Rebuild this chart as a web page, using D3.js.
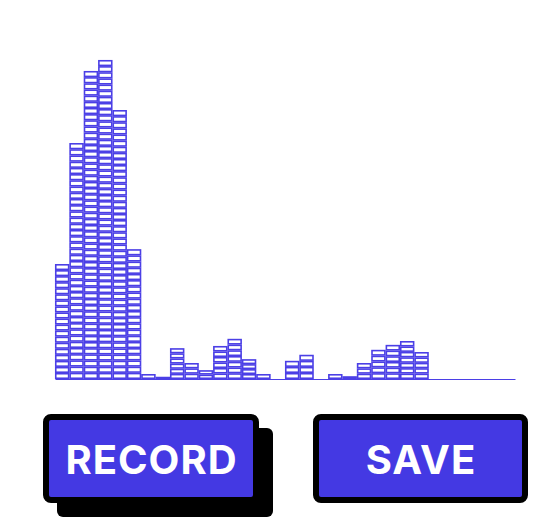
<!DOCTYPE html>
<html>
<head>
<meta charset="utf-8">
<script src="https://cdn.jsdelivr.net/npm/d3@7/dist/d3.min.js"></script>
<style>
  html, body { margin: 0; padding: 0; background: #fff; }
  svg { display: block; }
</style>
</head>
<body>
<svg id="chart" width="542" height="529"></svg>
<script>
// ---- data ----
const binIndex = d3.range(32);
const binTotals = [20.9, 42.9, 56, 58, 48.9, 23.6, 0.9, 0.4, 5.6, 2.9, 1.6, 6, 7.3, 3.6, 0.9, 0,
                   3.3, 4.4, 0, 0.9, 0.5, 2.9, 5.3, 6.2, 6.9, 4.9, 0, 0, 0, 0, 0, 0];
const binCounts = [19, 38, 50, 52, 44, 21, 1, 1, 6, 3, 2, 6, 7, 4, 1, 0,
                   3, 4, 0, 1, 1, 3, 5, 6, 7, 5, 0, 0, 0, 0, 0, 0];
const buttonLabels = ["RECORD", "SAVE"];

const svg = d3.select("#chart");
const PURPLE = "#4b3fe6";
const FILL = "#4439e3";

const x = d3.scaleLinear().domain([0, binIndex.length]).range([55, 515]);
const y = d3.scaleLinear().domain([0, d3.max(binTotals)]).range([379, 60]);

// cells
const cells = [];
binIndex.forEach(i => {
  const n = binCounts[i], T = binTotals[i];
  for (let j = 0; j < n; j++) {
    cells.push({ i, y0: j * T / n, y1: (j + 1) * T / n });
  }
});

svg.append("g")
  .selectAll("rect")
  .data(cells)
  .join("rect")
  .attr("x", d => x(d.i) + 0.75)
  .attr("width", d => x(d.i + 1) - x(d.i) - 1.5)
  .attr("y", d => y(d.y1) + 0.75)
  .attr("height", d => Math.max(0.5, y(d.y0) - y(d.y1) - 1.5))
  .attr("fill", "#fff")
  .attr("stroke", PURPLE)
  .attr("stroke-width", 1.6);

// baseline axis
const axis = svg.append("g")
  .attr("transform", `translate(0,${y(0)})`)
  .call(d3.axisBottom(x).ticks(0).tickSize(0).tickSizeOuter(0).tickFormat(""));
axis.select(".domain").attr("stroke", PURPLE).attr("stroke-width", 1);

// buttons
const buttons = [
  { label: buttonLabels[0], shadow: true, x0: 46, y0: 417, w: 210, h: 83 },
  { label: buttonLabels[1], shadow: false, x0: 316, y0: 417, w: 209, h: 83 }
];
buttons.forEach(b => {
  const g = svg.append("g");
  if (b.shadow) {
    g.append("rect")
      .attr("x", 57).attr("y", 428).attr("width", 216).attr("height", 89)
      .attr("rx", 6).attr("fill", "#000");
  }
  g.append("rect")
    .attr("x", b.x0).attr("y", b.y0).attr("width", b.w).attr("height", b.h)
    .attr("rx", 5).attr("fill", FILL).attr("stroke", "#000").attr("stroke-width", 6);
  g.append("text")
    .attr("x", b.x0 + b.w / 2 + 0.5).attr("y", b.y0 + b.h / 2 + 1)
    .attr("text-anchor", "middle").attr("dominant-baseline", "central")
    .attr("font-family", "Inter, 'Noto Sans', sans-serif")
    .attr("font-weight", 700).attr("font-size", 40)
    .attr("letter-spacing", 1)
    .attr("fill", "#fff")
    .text(b.label);
});
</script>
</body>
</html>
